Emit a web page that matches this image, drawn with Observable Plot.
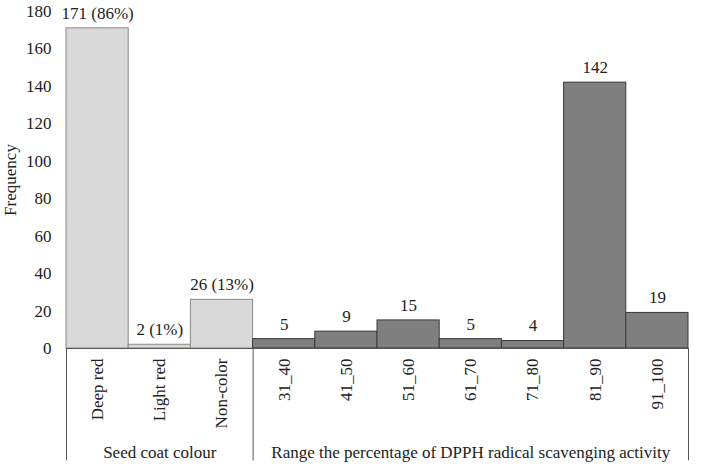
<!DOCTYPE html>
<html>
<head>
<meta charset="utf-8">
<script src="https://cdn.jsdelivr.net/npm/d3@7"></script>
<script src="https://cdn.jsdelivr.net/npm/@observablehq/plot@0.6"></script>
<style>
  html, body { margin: 0; padding: 0; background: #fff; }
  svg, svg text { font-family: "Liberation Serif", "Times New Roman", serif !important; }
</style>
</head>
<body>
<div id="chart"></div>
<script>
const categories = ["Deep red","Light red","Non-color","31_40","41_50","51_60","61_70","71_80","81_90","91_100"];
const values = [171, 2, 26, 5, 9, 15, 5, 4, 142, 19];
const valueLabels = ["171 (86%)","2 (1%)","26 (13%)","5","9","15","5","4","142","19"];
const groupNames = ["Seed coat colour", "Range the percentage of DPPH radical scavenging activity"];
const groupSizes = [3, 7];
const yTicks = [0, 20, 40, 60, 80, 100, 120, 140, 160, 180];

// build tables
const bars = categories.map((c, i) => ({
  cat: c, i, value: values[i], label: valueLabels[i],
  group: i < groupSizes[0] ? 0 : 1
}));
let acc = 0;
const groups = groupNames.map((g, k) => {
  const start = acc; acc += groupSizes[k];
  return {name: g, start, end: acc, mid: (start + acc) / 2};
});
const boundaries = [0, ...groups.map(g => g.end)];

const font = "Liberation Serif";
const fs = 17;

const chart = Plot.plot({
  width: 701,
  height: 466,
  marginLeft: 66,
  marginRight: 13,
  marginTop: 11,
  marginBottom: 118,
  style: {fontFamily: font, fontSize: fs + "px", color: "#222", background: "#fff"},
  x: {domain: [0, categories.length], axis: null},
  y: {domain: [0, 180], ticks: yTicks, label: null},
  marks: [
    Plot.rectY(bars, {
      x1: "i", x2: d => d.i + 1, y1: 0, y2: "value",
      fill: d => d.group === 0 ? "#d9d9d9" : "#7f7f7f",
      stroke: d => d.group === 0 ? "#8a8a8a" : "#3a3a3a",
      strokeWidth: 1, inset: 0
    }),
    Plot.ruleY([0], {stroke: "#555"}),
    Plot.ruleX(boundaries, {y1: 0, y2: -60, stroke: "#555"}),
    Plot.axisY({ticks: yTicks, tickSize: 0, tickPadding: 15, fontSize: fs, fontFamily: font, label: null}),
    Plot.text(["Frequency"], {frameAnchor: "left", textAnchor: "middle", dx: -56, rotate: -90, fontSize: fs, fontFamily: font, fill: "#222"}),
    Plot.text(bars, {x: d => d.i + 0.5, y: "value", text: "label", dy: -15, fontSize: fs, fontFamily: font, fill: "#222"}),
    Plot.text(bars, {x: d => d.i + 0.5, y: 0, text: "cat", rotate: -90, textAnchor: "end", dy: 10, fontSize: fs, fontFamily: font, fill: "#222"}),
    Plot.text(groups, {x: "mid", y: 0, text: "name", dy: 104, fontSize: fs, fontFamily: font, fill: "#222"})
  ]
});
document.getElementById("chart").appendChild(chart);
</script>
</body>
</html>
